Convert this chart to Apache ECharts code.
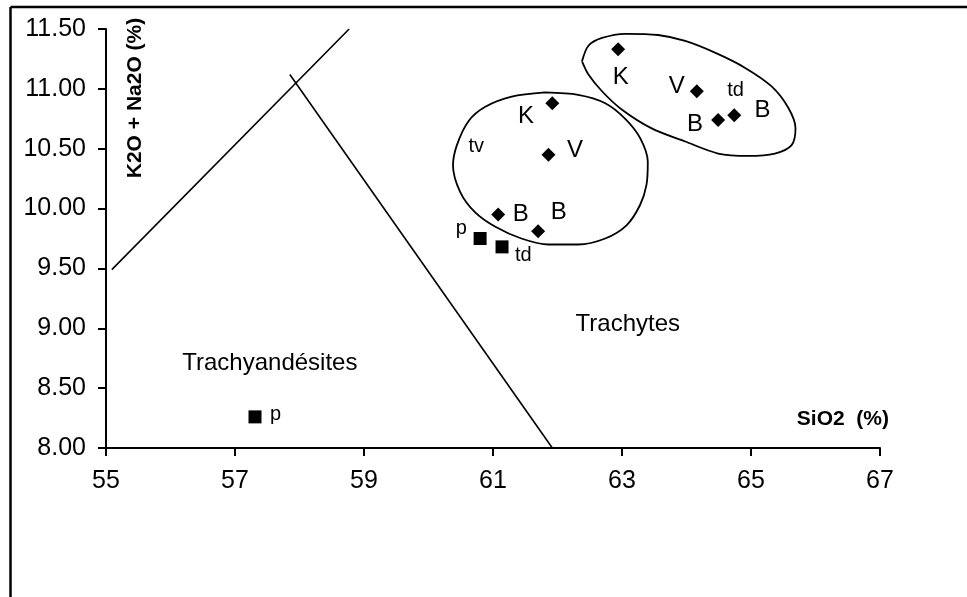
<!DOCTYPE html>
<html>
<head>
<meta charset="utf-8">
<script src="https://cdn.jsdelivr.net/npm/echarts@6/dist/echarts.min.js"></script>
<style>
  html, body { margin: 0; padding: 0; background: #fff; }
  #chart { width: 967px; height: 597px; }
</style>
</head>
<body>
<div id="chart"></div>
<script>
// axis ticks
var xTicks = [55, 57, 59, 61, 63, 65, 67];
var yTicks = [8, 8.5, 9, 9.5, 10, 10.5, 11, 11.5];

// points (SiO2, K2O + Na2O)
var diamondPts = [
  [62.94, 11.33], [64.16, 10.98], [64.49, 10.74], [64.74, 10.78],
  [61.92, 10.88], [61.86, 10.45], [61.08, 9.95], [61.70, 9.81]
];
var squarePts = [[60.80, 9.75], [61.14, 9.68], [57.31, 8.26]];

// boundary lines
var line1 = [[55.09, 9.49], [58.77, 11.5]];
var line2 = [[57.85, 11.12], [61.92, 8.0]];

// hand drawn envelopes
var envLeft = [
  [61.81, 10.97], [62.32, 10.95], [62.74, 10.88], [63.05, 10.75], [63.28, 10.59],
  [63.40, 10.39], [63.38, 10.20], [63.28, 10.03], [63.07, 9.86], [62.74, 9.75],
  [62.32, 9.70], [61.86, 9.70], [61.44, 9.75], [61.03, 9.85], [60.72, 9.97],
  [60.49, 10.14], [60.38, 10.36], [60.44, 10.53], [60.62, 10.73], [60.88, 10.85],
  [61.29, 10.935], [61.81, 10.97]
];
var envRight = [
  [62.38, 11.23], [62.48, 11.36], [62.69, 11.425], [63.05, 11.46], [63.56, 11.45],
  [63.98, 11.40], [64.45, 11.30], [64.91, 11.175], [65.32, 11.02], [65.58, 10.84],
  [65.69, 10.67], [65.63, 10.53], [65.37, 10.46], [64.96, 10.44], [64.49, 10.46],
  [63.98, 10.56], [63.46, 10.67], [62.99, 10.83], [62.69, 10.98], [62.48, 11.12],
  [62.38, 11.23]
];

// text labels [x, y, text]
var bigLabels = [
  [61.51, 10.77, 'K'], [62.27, 10.49, 'V'], [61.43, 9.95, 'B'], [62.02, 9.97, 'B'],
  [62.98, 11.10, 'K'], [63.85, 11.02, 'V'], [64.13, 10.70, 'B'], [65.18, 10.82, 'B'],
  [63.09, 9.03, 'Trachytes'], [57.54, 8.71, 'Trachyandésites']
];
var smallLabels = [
  [60.74, 10.52, 'tv'], [60.51, 9.83, 'p'], [61.47, 9.61, 'td'],
  [64.76, 10.99, 'td'], [57.63, 8.28, 'p']
];

var FONT = '"Liberation Sans", Arial, sans-serif';
var chart = echarts.init(document.getElementById('chart'));

function lineSeries(data, smooth, w) {
  return {
    type: 'line', data: data, smooth: smooth, showSymbol: false, silent: true,
    lineStyle: { color: '#000', width: w }
  };
}
function labelSeries(data, size) {
  return {
    type: 'scatter', data: data, symbolSize: 0, silent: true,
    itemStyle: { color: '#000', opacity: 1 },
    label: {
      show: true, position: 'inside', color: '#000', opacity: 1, textBorderWidth: 0,
      fontSize: size, fontFamily: FONT,
      formatter: function (p) { return p.data[2]; }
    }
  };
}

var option = {
  animation: false,
  backgroundColor: '#fff',
  grid: { left: 106, right: 87, top: 29, bottom: 149 },
  xAxis: {
    type: 'value', min: xTicks[0], max: xTicks[xTicks.length - 1], interval: 2,
    axisLine: { lineStyle: { color: '#000', width: 2 } },
    axisTick: { show: true, length: 8, lineStyle: { color: '#000', width: 2 } },
    splitLine: { show: false },
    axisLabel: { color: '#000', fontSize: 25, fontFamily: FONT, margin: 21 }
  },
  yAxis: {
    type: 'value', min: yTicks[0], max: yTicks[yTicks.length - 1], interval: 0.5,
    axisLine: { show: true, lineStyle: { color: '#000', width: 2 } },
    axisTick: { show: true, length: 8, lineStyle: { color: '#000', width: 2 } },
    splitLine: { show: false },
    axisLabel: {
      color: '#000', fontSize: 25, fontFamily: FONT, margin: 20,
      formatter: function (v) { return v.toFixed(2); }
    }
  },
  graphic: [
    { type: 'line', shape: { x1: 10.5, y1: 7, x2: 967, y2: 7 }, style: { stroke: '#000', lineWidth: 2.5 } },
    { type: 'line', shape: { x1: 10.5, y1: 7, x2: 10.5, y2: 597 }, style: { stroke: '#000', lineWidth: 2.5 } },
    {
      type: 'text', x: 135, y: 98, rotation: Math.PI / 2,
      style: { text: 'K2O + Na2O (%)', fill: '#000', font: 'bold 21px ' + FONT, align: 'center', verticalAlign: 'middle' }
    },
    {
      type: 'text', x: 889, y: 419,
      style: { text: 'SiO2  (%)', fill: '#000', font: 'bold 21px ' + FONT, align: 'right', verticalAlign: 'middle' }
    }
  ],
  series: [
    lineSeries(line1, false, 1.6),
    lineSeries(line2, false, 1.6),
    lineSeries(envLeft, 0.3, 1.8),
    lineSeries(envRight, 0.3, 1.8),
    { type: 'scatter', data: diamondPts, symbol: 'diamond', symbolSize: 14, silent: true, itemStyle: { color: '#000', opacity: 1 } },
    { type: 'scatter', data: squarePts, symbol: 'rect', symbolSize: 13, silent: true, itemStyle: { color: '#000', opacity: 1 } },
    labelSeries(bigLabels, 24),
    labelSeries(smallLabels, 20)
  ]
};
chart.setOption(option);
</script>
</body>
</html>
